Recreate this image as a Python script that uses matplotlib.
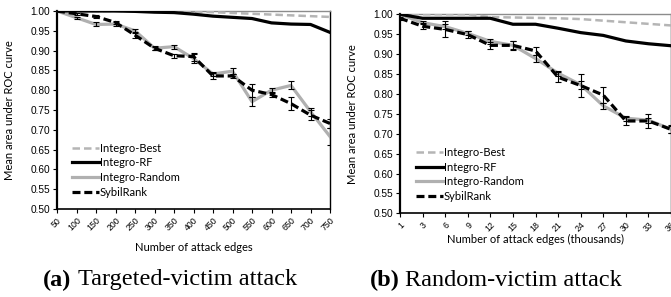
import numpy as np
import matplotlib
matplotlib.use("Agg")
import matplotlib.pyplot as plt

# Targeted-victim attack (left panel)
edges_a = ["50", "100", "150", "200", "250", "300", "350", "400", "450", "500",
           "550", "600", "650", "700", "750"]
best_a = [1.0, 1.0, 1.0, 1.0, 1.0, 1.0, 0.999, 0.998, 0.997, 0.995,
          0.993, 0.991, 0.989, 0.987, 0.985]
rf_a = [1.0, 1.0, 1.0, 1.0, 0.999, 0.997, 0.996, 0.992, 0.987, 0.984,
        0.981, 0.970, 0.967, 0.966, 0.946]
random_a = [1.0, 0.983, 0.966, 0.967, 0.950, 0.906, 0.910, 0.880, 0.841, 0.848,
            0.771, 0.800, 0.812, 0.746, 0.683]
random_err_a = [0.0, 0.003, 0.005, 0.004, 0.005, 0.004, 0.005, 0.012, 0.006, 0.008,
                0.012, 0.006, 0.010, 0.010, 0.022]
sybil_a = [1.0, 0.993, 0.986, 0.971, 0.939, 0.906, 0.887, 0.885, 0.836, 0.836,
           0.800, 0.789, 0.766, 0.737, 0.716]
sybil_err_a = [0.0, 0.002, 0.003, 0.004, 0.007, 0.005, 0.005, 0.010, 0.008, 0.006,
               0.016, 0.006, 0.016, 0.012, 0.012]

# Random-victim attack (right panel), edges in thousands
edges_b = ["1", "3", "6", "9", "12", "15", "18", "21", "24", "27", "30", "33", "36"]
best_b = [1.0, 1.0, 1.0, 1.0, 0.993, 0.992, 0.991, 0.990, 0.988, 0.984,
          0.980, 0.976, 0.972]
rf_b = [1.0, 0.99, 0.99, 0.99, 0.99, 0.975, 0.975, 0.965, 0.954, 0.947,
        0.933, 0.926, 0.921]
random_b = [1.0, 0.979, 0.969, 0.952, 0.932, 0.922, 0.889, 0.852, 0.823, 0.770,
            0.739, 0.734, 0.711]
random_err_b = [0.0, 0.004, 0.006, 0.005, 0.006, 0.010, 0.008, 0.006, 0.010, 0.008,
                0.006, 0.006, 0.008]
sybil_b = [0.99, 0.970, 0.962, 0.949, 0.922, 0.922, 0.908, 0.842, 0.821, 0.797,
           0.732, 0.732, 0.711]
sybil_err_b = [0.004, 0.008, 0.020, 0.008, 0.008, 0.012, 0.011, 0.012, 0.030, 0.020,
               0.010, 0.018, 0.010]

yticks = [0.50, 0.55, 0.60, 0.65, 0.70, 0.75, 0.80, 0.85, 0.90, 0.95, 1.00]

GRAY_BEST = "#b5b5b5"
GRAY_RAND = "#b0b0b0"
LABEL_FONT = "Lato"
TICK_FONT = "Liberation Sans"


def draw_panel(ax, cats, best, rf, rnd, rnd_err, syb, syb_err, xlabel, leg_x):
    x = np.arange(len(cats))
    ax.plot(x, best, color=GRAY_BEST, lw=1.8, dashes=(3.0, 1.6), label="Integro-Best", zorder=3)
    ax.plot(x, rf, color="black", lw=2.3, label="Integro-RF", zorder=4)
    ax.plot(x, rnd, color=GRAY_RAND, lw=2.3, label="Integro-Random", zorder=3)
    ax.plot(x, syb, color="black", lw=2.3, dashes=(2.5, 1.2), label="SybilRank", zorder=5)
    ax.errorbar(x, rnd, yerr=rnd_err, fmt="none", ecolor="black", elinewidth=0.8,
                capsize=2, capthick=0.8, zorder=6)
    ax.errorbar(x, syb, yerr=syb_err, fmt="none", ecolor="black", elinewidth=0.8,
                capsize=2, capthick=0.8, zorder=6)

    ax.set_xlim(0, len(cats) - 1)
    ax.set_ylim(0.5, 1.0)
    ax.set_yticks(yticks)
    ax.set_yticklabels([f"{v:.2f}" for v in yticks], fontsize=7.3, family=TICK_FONT)
    ax.set_xticks(x)
    ax.set_xticklabels(cats, rotation=45, ha="right", rotation_mode="anchor",
                       fontsize=6.3, family=TICK_FONT)
    ax.tick_params(axis="both", direction="out", length=3, width=0.8, pad=2)

    ax.spines["left"].set_linewidth(1.6)
    ax.spines["bottom"].set_linewidth(1.2)
    ax.spines["right"].set_linewidth(1.0)
    ax.spines["top"].set_color("#8c8c8c")
    ax.spines["top"].set_linewidth(1.0)

    ax.set_xlabel(xlabel, fontsize=8, family=LABEL_FONT)
    ax.set_ylabel("Mean area under ROC curve", fontsize=8, family=LABEL_FONT)

    ax.legend(loc="lower left", bbox_to_anchor=(leg_x, 0.035), frameon=False,
              handlelength=2.4, handletextpad=0.05, labelspacing=0.33,
              borderaxespad=0, prop={"family": LABEL_FONT, "size": 8})


fig = plt.figure(figsize=(6.71, 2.97), dpi=100)

ax1 = fig.add_axes([57 / 671, 1 - 209 / 297, 273 / 671, 198 / 297])
draw_panel(ax1, edges_a, best_a, rf_a, random_a, random_err_a, sybil_a, sybil_err_a,
           "Number of attack edges", 0.04)
ax1.yaxis.set_label_coords(-0.155, 0.5)
ax1.xaxis.set_label_coords(0.5, -0.165)

ax2 = fig.add_axes([400 / 671, 1 - 213.3 / 297, 271 / 671, 199 / 297])
draw_panel(ax2, edges_b, best_b, rf_b, random_b, random_err_b, sybil_b, sybil_err_b,
           "Number of attack edges (thousands)", 0.044)
ax2.yaxis.set_label_coords(-0.155, 0.5)
ax2.xaxis.set_label_coords(0.5, -0.105)

# captions below the panels
cap_y = 1 - 280 / 297
cap_size = 17.5
fig.text(43 / 671, cap_y, "(a)", fontsize=cap_size, fontweight="bold",
         family="Liberation Serif", va="center", ha="left")
fig.text(78 / 671, cap_y, "Targeted-victim attack", fontsize=cap_size,
         family="Liberation Serif", va="center", ha="left")
fig.text(370 / 671, cap_y, "(b)", fontsize=cap_size, fontweight="bold",
         family="Liberation Serif", va="center", ha="left")
fig.text(405 / 671, cap_y, "Random-victim attack", fontsize=cap_size,
         family="Liberation Serif", va="center", ha="left")

fig.savefig("out.png", dpi=100)
